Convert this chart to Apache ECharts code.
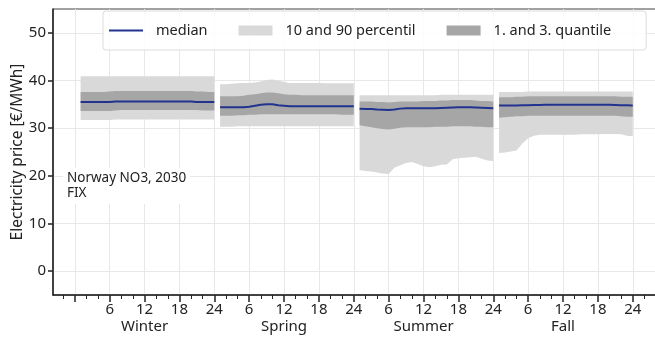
<!DOCTYPE html>
<html>
<head>
<meta charset="utf-8">
<script src="https://cdn.jsdelivr.net/npm/echarts@6/dist/echarts.min.js"></script>
<style>
  html, body { margin: 0; padding: 0; background: #fff; }
  #chart { width: 655px; height: 338px; }
</style>
</head>
<body>
<div id="chart"></div>
<script>
// ---------- data ----------
const seasons = ['Winter', 'Spring', 'Summer', 'Fall'];
const hours = [1,2,3,4,5,6,7,8,9,10,11,12,13,14,15,16,17,18,19,20,21,22,23,24];
const hourTickLabels = ['6', '12', '18', '24'];
const yTicks = [0, 10, 20, 30, 40, 50];
const annotation = 'Norway NO3, 2030\nFIX';

const winterP10    = [31.7,31.7,31.7,31.7,31.7,31.7,31.8,31.8,31.8,31.8,31.8,31.8,31.8,31.8,31.8,31.8,31.8,31.8,31.8,31.8,31.8,31.8,31.8,31.8];
const winterQ1     = [33.6,33.6,33.6,33.6,33.6,33.6,33.7,33.8,33.8,33.8,33.8,33.8,33.8,33.8,33.8,33.8,33.8,33.8,33.8,33.8,33.8,33.7,33.7,33.7];
const winterMedian = [35.5,35.5,35.5,35.5,35.5,35.5,35.6,35.6,35.6,35.6,35.6,35.6,35.6,35.6,35.6,35.6,35.6,35.6,35.6,35.6,35.5,35.5,35.5,35.5];
const winterQ3     = [37.6,37.6,37.6,37.6,37.6,37.7,37.8,37.8,37.8,37.8,37.8,37.8,37.8,37.8,37.8,37.8,37.8,37.8,37.8,37.8,37.7,37.7,37.6,37.6];
const winterP90    = [40.9,40.9,40.9,40.9,40.9,40.9,40.9,40.9,40.9,40.9,40.9,40.9,40.9,40.9,40.9,40.9,40.9,40.9,40.9,40.9,40.9,40.9,40.9,40.9];

const springP10    = [30.3,30.3,30.3,30.4,30.4,30.4,30.4,30.4,30.4,30.4,30.4,30.4,30.4,30.4,30.4,30.4,30.4,30.4,30.4,30.4,30.4,30.4,30.4,30.4];
const springQ1     = [32.6,32.6,32.6,32.7,32.7,32.8,32.8,32.9,32.9,32.9,32.9,32.9,32.9,32.9,32.9,32.9,32.9,32.9,32.9,32.9,32.9,32.8,32.8,32.8];
const springMedian = [34.4,34.4,34.4,34.4,34.4,34.5,34.7,34.9,35.0,35.0,34.8,34.7,34.6,34.6,34.6,34.6,34.6,34.6,34.6,34.6,34.6,34.6,34.6,34.6];
const springQ3     = [36.7,36.7,36.7,36.7,36.8,37.0,37.1,37.3,37.5,37.5,37.3,37.1,37.0,37.0,36.9,36.9,36.9,36.9,36.9,36.9,36.9,36.9,36.9,36.9];
const springP90    = [39.2,39.2,39.3,39.4,39.5,39.5,39.6,39.8,40.1,40.2,40.0,39.7,39.5,39.5,39.5,39.5,39.5,39.5,39.4,39.4,39.4,39.4,39.4,39.4];

const summerP10    = [21.2,21.0,20.9,20.7,20.5,20.4,21.7,22.2,22.7,22.9,22.5,22.0,21.8,22.0,22.3,22.4,23.5,23.7,23.8,23.9,24.0,23.6,23.2,23.1];
const summerQ1     = [30.6,30.4,30.2,30.0,29.8,29.7,29.9,30.1,30.2,30.2,30.2,30.2,30.2,30.3,30.3,30.3,30.4,30.4,30.4,30.4,30.3,30.3,30.2,30.2];
const summerMedian = [34.05,34.0,34.0,33.9,33.85,33.8,33.9,34.1,34.2,34.2,34.2,34.2,34.2,34.2,34.25,34.3,34.35,34.4,34.4,34.4,34.35,34.3,34.25,34.2];
const summerQ3     = [35.6,35.6,35.6,35.5,35.5,35.4,35.5,35.6,35.6,35.6,35.6,35.7,35.7,35.7,35.8,35.8,35.9,35.9,35.9,35.9,35.8,35.7,35.7,35.6];
const summerP90    = [36.9,36.9,36.9,36.9,36.9,36.9,36.9,36.9,36.9,36.9,36.9,36.9,36.9,36.9,37.0,37.0,37.0,37.0,37.0,37.0,37.0,37.0,37.0,37.0];

const fallP10      = [24.8,24.9,25.1,25.3,26.8,27.9,28.4,28.6,28.6,28.6,28.6,28.6,28.6,28.6,28.7,28.7,28.7,28.7,28.8,28.8,28.8,28.7,28.4,28.3];
const fallQ1       = [32.2,32.3,32.4,32.5,32.5,32.6,32.6,32.6,32.6,32.6,32.6,32.6,32.6,32.6,32.6,32.6,32.6,32.6,32.6,32.6,32.6,32.5,32.4,32.4];
const fallMedian   = [34.75,34.75,34.75,34.75,34.8,34.8,34.85,34.85,34.9,34.9,34.9,34.9,34.9,34.9,34.9,34.9,34.9,34.9,34.9,34.9,34.85,34.8,34.8,34.75];
const fallQ3       = [36.5,36.5,36.5,36.6,36.6,36.7,36.7,36.7,36.7,36.7,36.7,36.7,36.7,36.7,36.7,36.7,36.7,36.7,36.7,36.7,36.7,36.6,36.6,36.6];
const fallP90      = [37.6,37.6,37.6,37.6,37.6,37.7,37.7,37.7,37.7,37.7,37.7,37.7,37.7,37.7,37.7,37.7,37.7,37.7,37.7,37.7,37.7,37.7,37.7,37.7];

// ---------- build ----------
const seasonData = [
  { p10: winterP10, q1: winterQ1, med: winterMedian, q3: winterQ3, p90: winterP90 },
  { p10: springP10, q1: springQ1, med: springMedian, q3: springQ3, p90: springP90 },
  { p10: summerP10, q1: summerQ1, med: summerMedian, q3: summerQ3, p90: summerP90 },
  { p10: fallP10,   q1: fallQ1,   med: fallMedian,   q3: fallQ3,   p90: fallP90 }
];
const LIGHT = '#d9d9d9';
const DARK = '#a6a6a6';
const BLUE = '#22338f';
const FONT = 'Noto Sans';

function bandSeries(name, color, low, high, offset) {
  const rows = hours.map((h, k) => [offset + h, low[k], high[k]]);
  return {
    name: name,
    type: 'custom',
    xAxisIndex: 0, yAxisIndex: 0,
    itemStyle: { color: color },
    encode: { x: 0, y: [1, 2] },
    data: rows,
    silent: true,
    renderItem: function (params, api) {
      if (params.dataIndex !== 0) return;
      const top = rows.map(r => api.coord([r[0], r[2]]));
      const bot = rows.map(r => api.coord([r[0], r[1]])).reverse();
      return {
        type: 'polygon',
        shape: { points: top.concat(bot) },
        style: { fill: color }
      };
    }
  };
}

const series = [];
seasonData.forEach((s, i) => series.push(bandSeries('10 and 90 percentil', LIGHT, s.p10, s.p90, i * 24)));
seasonData.forEach((s, i) => series.push(bandSeries('1. and 3. quantile', DARK, s.q1, s.q3, i * 24)));
seasonData.forEach((s, i) => series.push({
  name: 'median',
  type: 'line',
  xAxisIndex: 0, yAxisIndex: 0,
  symbol: 'none',
  silent: true,
  itemStyle: { color: BLUE },
  lineStyle: { color: BLUE, width: 2 },
  data: hours.map((h, k) => [i * 24 + h, s.med[k]])
}));

const majorTicks = [];
for (let t = 0; t <= 96; t += 6) majorTicks.push(t);
const labelTicks = majorTicks.filter(t => t > 0);
const minorTicks = [];
for (let t = -2; t <= 100; t += 2) if (t % 6 !== 0) minorTicks.push(t);
const seasonCenters = seasons.map((_, i) => i * 24 + 12);

const X_MIN = -3.75, X_MAX = 100;

const option = {
  animation: false,
  backgroundColor: '#fff',
  grid: {
    left: 53, right: -1, top: 9, bottom: 43,
    outerBoundsMode: 'none', containLabel: false,
    show: true, borderColor: '#444', borderWidth: 1, backgroundColor: 'transparent'
  },
  legend: {
    left: 103, top: 11,
    padding: [12, 35, 12, 5],
    itemGap: 31,
    itemWidth: 34, itemHeight: 10,
    backgroundColor: 'rgba(255,255,255,0.85)',
    borderColor: '#dcdcdc', borderWidth: 1, borderRadius: 3,
    textStyle: { fontFamily: FONT, fontSize: 14.5, color: '#222', padding: [0, 0, 0, 8] },
    data: [
      { name: 'median', itemStyle: { opacity: 0 } },
      { name: '10 and 90 percentil', icon: 'rect' },
      { name: '1. and 3. quantile', icon: 'rect' }
    ]
  },
  xAxis: [
    {
      type: 'value', min: X_MIN, max: X_MAX, position: 'bottom',
      axisLine: { show: true, onZero: false, lineStyle: { color: '#222', width: 1.5 } },
      axisTick: { show: true, length: 7, lineStyle: { color: '#222', width: 1.5 }, customValues: majorTicks },
      axisLabel: {
        customValues: labelTicks, margin: 7,
        fontFamily: FONT, fontSize: 15, color: '#222',
        formatter: v => hourTickLabels[Math.round((v % 24 === 0 ? 24 : v % 24) / 6) - 1]
      },
      splitLine: { show: true, lineStyle: { color: '#e8e8e8', width: 1 } }
    },
    {
      type: 'value', min: X_MIN, max: X_MAX, position: 'bottom',
      axisLine: { show: false, onZero: false },
      axisTick: { show: true, length: 4, lineStyle: { color: '#222', width: 1 }, customValues: minorTicks },
      axisLabel: { show: false },
      splitLine: { show: false }
    },
    {
      type: 'value', min: X_MIN, max: X_MAX, position: 'bottom',
      axisLine: { show: false, onZero: false },
      axisTick: { show: false },
      axisLabel: {
        customValues: seasonCenters, margin: 24,
        fontFamily: FONT, fontSize: 15, color: '#222',
        formatter: v => seasons[Math.round((v - 12) / 24)]
      },
      splitLine: { show: false }
    }
  ],
  yAxis: {
    type: 'value', min: -5, max: 55,
    name: 'Electricity price [€/MWh]',
    nameLocation: 'middle', nameGap: 27, nameMoveOverlap: false,
    nameTextStyle: { fontFamily: FONT, fontSize: 15.5, color: '#222' },
    axisLine: { show: true, onZero: false, lineStyle: { color: '#222', width: 1.5 } },
    axisTick: { show: true, length: 5, lineStyle: { color: '#222', width: 1.5 }, customValues: yTicks },
    axisLabel: { customValues: yTicks, margin: 7, fontFamily: FONT, fontSize: 15, color: '#222' },
    splitLine: { show: true, lineStyle: { color: '#e8e8e8', width: 1 } }
  },
  graphic: [{
    type: 'text', left: 63, top: 168, silent: true, z: 10,
    style: {
      text: annotation, fontFamily: FONT, fontSize: 13.5, lineHeight: 15, fill: '#222',
      backgroundColor: '#fff', padding: [3, 4, 3, 4]
    }
  }],
  series: series
};

const chart = echarts.init(document.getElementById('chart'), null, { renderer: 'canvas' });
chart.setOption(option);
</script>
</body>
</html>
